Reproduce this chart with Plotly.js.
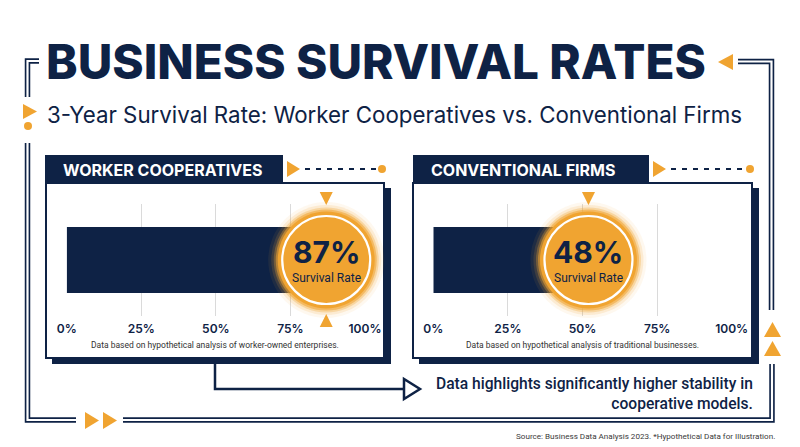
<!DOCTYPE html>
<html><head><meta charset="utf-8">
<script src="https://cdn.plot.ly/plotly-3.0.1.min.js"></script>
<style>html,body{margin:0;padding:0;background:#fff;} #chart{width:800px;height:447px;}</style>
</head><body><div id="chart"></div>
<script>
// ---- data ----
const mainTitle = 'BUSINESS SURVIVAL RATES';
const subTitle = '3-Year Survival Rate: Worker Cooperatives vs. Conventional Firms';
const groups = ['WORKER COOPERATIVES', 'CONVENTIONAL FIRMS'];
const survivalRates = [87, 48];
const badgeLabel = 'Survival Rate';
const tickValues = [0, 25, 50, 75, 100];
const tickLabels = ['0%', '25%', '50%', '75%', '100%'];
const panelNotes = ['Data based on hypothetical analysis of worker-owned enterprises.',
                    'Data based on hypothetical analysis of traditional businesses.'];
const takeawayLines = ['Data highlights significantly higher stability in', 'cooperative models.'];
const sourceNote = 'Source: Business Data Analysis 2023. *Hypothetical Data for Illustration.';

// ---- layout helpers ----
const W = 800, H = 447;
const NAVY = '#0E2245', ORANGE = '#F0A431', GRID = '#dadada';
const FONT = 'Inter, "Noto Sans", sans-serif';
const FONT2 = 'Roboto, "Liberation Sans", sans-serif';
const px = x => x / W, py = y => 1 - y / H;
const P = (x, y) => px(x).toFixed(5) + ',' + py(y).toFixed(5);

const panels = [
  {left: 46, right: 384, hdr: [45, 283], x0: 66.7, x1: 365, nudge: 0, bottomTri: true},
  {left: 413, right: 752, hdr: [413, 649], x0: 433.3, x1: 731.7, nudge: 4, bottomTri: false}
];
const plotTop = 204, plotBottom = 316, panelTop = 183, panelBottom = 358, hdrTop = 155;

const traces = [], shapes = [], annotations = [];
const layout = {
  width: W, height: H, margin: {l: 0, r: 0, t: 0, b: 0},
  paper_bgcolor: '#ffffff', plot_bgcolor: 'rgba(0,0,0,0)',
  showlegend: false, hovermode: false,
  title: {text: mainTitle, x: px(46), xanchor: 'left', y: py(62), yanchor: 'middle',
          font: {family: FONT, size: 47.6, weight: 800, color: NAVY}},
  shapes, annotations
};

function dbl(path) {
  shapes.push({type: 'path', xref: 'paper', yref: 'paper', path, line: {color: NAVY, width: 5.5}, layer: 'below'});
  shapes.push({type: 'path', xref: 'paper', yref: 'paper', path, line: {color: '#ffffff', width: 2.2}, layer: 'below'});
}
function tri(pts, color) {
  shapes.push({type: 'path', xref: 'paper', yref: 'paper',
    path: 'M' + pts.map(p => P(p[0], p[1])).join('L') + 'Z',
    fillcolor: color, line: {width: 0}});
}

// outer frame
dbl('M' + P(39, 61) + 'L' + P(27.5, 61) + 'L' + P(27.5, 97));
dbl('M' + P(27.5, 143) + 'L' + P(27.5, 420) + 'L' + P(76, 420));
dbl('M' + P(123, 420) + 'L' + P(772, 420) + 'L' + P(772, 364));
dbl('M' + P(738, 61.5) + 'L' + P(771.5, 61.5) + 'L' + P(771.5, 310));
// orange accents
tri([[23, 104], [23, 119], [37, 111.5]], ORANGE);
shapes.push({type: 'circle', xref: 'paper', yref: 'paper', x0: px(24), x1: px(32), y0: py(122), y1: py(130), fillcolor: ORANGE, line: {width: 0}});
tri([[733, 54], [733, 70], [718, 62]], ORANGE);
tri([[85, 412], [85, 429], [99, 420.5]], ORANGE);
tri([[103, 412], [103, 429], [117, 420.5]], ORANGE);
tri([[764, 337], [781, 337], [772.5, 322]], ORANGE);
tri([[764, 356], [781, 356], [772.5, 341]], ORANGE);

// connector arrow
shapes.push({type: 'path', xref: 'paper', yref: 'paper',
  path: 'M' + P(215, 364) + 'L' + P(215, 389) + 'L' + P(404, 389), line: {color: NAVY, width: 2.5}});
shapes.push({type: 'path', xref: 'paper', yref: 'paper',
  path: 'M' + P(404, 379) + 'L' + P(404, 399) + 'L' + P(420, 389) + 'Z', fillcolor: '#ffffff', line: {color: NAVY, width: 2.5}});

annotations.push({xref: 'paper', yref: 'paper', x: px(45), y: py(114), xanchor: 'left', yanchor: 'middle',
  text: subTitle, showarrow: false, font: {family: FONT, size: 22.3, color: NAVY}});
annotations.push({xref: 'paper', yref: 'paper', x: px(754), y: py(394), xanchor: 'right', yanchor: 'middle', align: 'right',
  text: takeawayLines.join('<br>'), showarrow: false, borderpad: 0,
  font: {family: FONT2, size: 15.6, weight: 500, color: NAVY}});
annotations.push({xref: 'paper', yref: 'paper', x: px(777), y: py(436), xanchor: 'right', yanchor: 'middle',
  text: sourceNote, showarrow: false, font: {family: FONT2, size: 8.1, color: '#3a3a3a'}});

panels.forEach((pn, i) => {
  const sfx = i === 0 ? '' : String(i + 1);
  const xa = 'x' + sfx, ya = 'y' + sfx;
  const v = survivalRates[i];
  const bx = v + pn.nudge;

  // panel shadow, body, header
  shapes.push({type: 'rect', xref: 'paper', yref: 'paper', x0: px(pn.left + 6), x1: px(pn.right + 7),
    y0: py(panelBottom + 6), y1: py(panelTop + 5), fillcolor: NAVY, line: {width: 0}, layer: 'below'});
  shapes.push({type: 'rect', xref: 'paper', yref: 'paper', x0: px(pn.left), x1: px(pn.right),
    y0: py(panelBottom), y1: py(panelTop), fillcolor: '#ffffff', line: {color: NAVY, width: 2}, layer: 'below'});
  shapes.push({type: 'rect', xref: 'paper', yref: 'paper', x0: px(pn.hdr[0]), x1: px(pn.hdr[1]),
    y0: py(panelTop + 1), y1: py(hdrTop), fillcolor: NAVY, line: {width: 0}, layer: 'below'});
  annotations.push({xref: 'paper', yref: 'paper', x: px(pn.hdr[0] + 16), y: py(170), xanchor: 'left', yanchor: 'middle',
    text: groups[i], showarrow: false, font: {family: FONT, size: 16, weight: 700, color: '#ffffff'}});
  // header accent: triangle, dashes, dot
  const tx = pn.hdr[1] + 4;
  tri([[tx, 161], [tx, 177], [tx + 13, 169]], ORANGE);
  shapes.push({type: 'line', xref: 'paper', yref: 'paper', x0: px(tx + 18), x1: px(pn.right - 8), y0: py(169), y1: py(169),
    line: {color: NAVY, width: 2, dash: '5px,6px'}});
  shapes.push({type: 'circle', xref: 'paper', yref: 'paper', x0: px(pn.right - 6), x1: px(pn.right + 2), y0: py(165), y1: py(173),
    fillcolor: ORANGE, line: {width: 0}});
  // note
  annotations.push({xref: 'paper', yref: 'paper', x: px((pn.left + pn.right) / 2), y: py(345), xanchor: 'center', yanchor: 'middle',
    text: panelNotes[i], showarrow: false, font: {family: FONT2, size: 8.5, color: '#333333'}});

  layout['xaxis' + sfx] = {domain: [px(pn.x0), px(pn.x1)], range: [0, 100], anchor: ya,
    tickvals: tickValues, ticktext: tickLabels, showgrid: true, gridcolor: GRID, gridwidth: 1,
    zeroline: false, showline: false, ticks: '', ticklabelstandoff: 4,
    tickfont: {family: FONT, size: 12, weight: 600, color: NAVY}, fixedrange: true};
  layout['yaxis' + sfx] = {domain: [py(plotBottom), py(plotTop)], range: [-0.5, 0.5], anchor: xa,
    visible: false, fixedrange: true};

  traces.push({type: 'bar', orientation: 'h', x: [v], y: [0], width: 0.59, xaxis: xa, yaxis: ya,
    marker: {color: NAVY, line: {width: 0}}, hoverinfo: 'skip'});

  // badge glow + body + ring
  [[116, 'rgba(240,164,49,0.08)'], [110, 'rgba(240,164,49,0.15)'], [105, 'rgba(240,164,49,0.3)'], [101, 'rgba(240,164,49,0.55)']]
    .forEach(g => traces.push({type: 'scatter', mode: 'markers', x: [bx], y: [0], xaxis: xa, yaxis: ya, cliponaxis: false,
      marker: {size: g[0], color: g[1], line: {width: 0}}, hoverinfo: 'skip'}));
  traces.push({type: 'scatter', mode: 'markers', x: [bx], y: [0], xaxis: xa, yaxis: ya, cliponaxis: false,
    marker: {size: 97, color: ORANGE, line: {width: 0}}, hoverinfo: 'skip'});
  traces.push({type: 'scatter', mode: 'markers', x: [bx], y: [0], xaxis: xa, yaxis: ya, cliponaxis: false,
    marker: {size: 88, color: 'rgba(0,0,0,0)', line: {width: 2.2, color: '#ffffff'}}, hoverinfo: 'skip'});

  annotations.push({xref: xa, yref: ya, x: bx, y: 0, yshift: 8, text: v + '%', showarrow: false,
    font: {family: FONT, size: 30, weight: 700, color: NAVY}});
  annotations.push({xref: xa, yref: ya, x: bx, y: 0, yshift: -18, text: badgeLabel, showarrow: false,
    font: {family: FONT2, size: 12, color: NAVY}});

  // pointer triangles around badge (data x, paper y)
  const hw = 6.5 / (pn.x1 - pn.x0) * 100;
  shapes.push({type: 'path', xref: xa, yref: 'paper',
    path: `M${bx - hw},${py(192)}L${bx + hw},${py(192)}L${bx},${py(205)}Z`, fillcolor: ORANGE, line: {width: 0}});
  if (pn.bottomTri) shapes.push({type: 'path', xref: xa, yref: 'paper',
    path: `M${bx - hw},${py(327)}L${bx + hw},${py(327)}L${bx},${py(314)}Z`, fillcolor: ORANGE, line: {width: 0}});
});

Plotly.newPlot('chart', traces, layout, {displayModeBar: false, staticPlot: true});
</script></body></html>
